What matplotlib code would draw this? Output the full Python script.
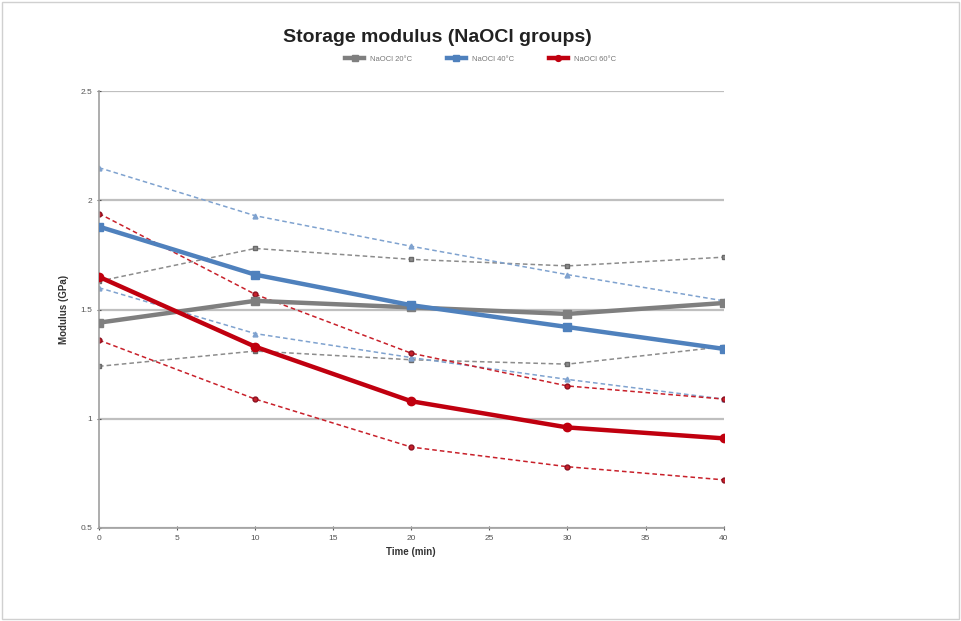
import matplotlib.pyplot as plt
from matplotlib.patches import Rectangle

time = [0, 10, 20, 30, 40]

# mean curves
g20_mean = [1.44, 1.54, 1.51, 1.48, 1.53]
b40_mean = [1.88, 1.66, 1.52, 1.42, 1.32]
r60_mean = [1.65, 1.33, 1.08, 0.96, 0.91]

# upper / lower bounds (dashed)
g20_hi = [1.63, 1.78, 1.73, 1.70, 1.74]
g20_lo = [1.24, 1.31, 1.27, 1.25, 1.33]
b40_hi = [2.15, 1.93, 1.79, 1.66, 1.54]
b40_lo = [1.60, 1.39, 1.28, 1.18, 1.09]
r60_hi = [1.94, 1.57, 1.30, 1.15, 1.09]
r60_lo = [1.36, 1.09, 0.87, 0.78, 0.72]

labels = ["NaOCl 20°C", "NaOCl 40°C", "NaOCl 60°C"]
xticks = [0, 5, 10, 15, 20, 25, 30, 35, 40]
yticks = [0.5, 1, 1.5, 2, 2.5]

gray, blue, red = "#7f7f7f", "#4f81bd", "#c0000f"

plt.rcParams['font.family'] = ['Liberation Sans', 'DejaVu Sans']
fig = plt.figure(figsize=(9.61, 6.21), dpi=100)
fig.patches.append(Rectangle((0.002, 0.003), 0.996, 0.994, transform=fig.transFigure,
                             fill=False, edgecolor="#d0d0d0", lw=1))
ax = fig.add_axes([0.103, 0.150, 0.650, 0.703])

dash = (0, (3, 2))
ax.plot(time, g20_hi, color="#8c8c8c", lw=1.1, ls=dash, marker='s', ms=3.5, mec="#6a6a6a", zorder=2)
ax.plot(time, g20_lo, color="#8c8c8c", lw=1.1, ls=dash, marker='s', ms=3.5, mec="#6a6a6a", zorder=2)
ax.plot(time, b40_hi, color="#7fa2cf", lw=1.1, ls=dash, marker='^', ms=3.5, zorder=2)
ax.plot(time, b40_lo, color="#7fa2cf", lw=1.1, ls=dash, marker='^', ms=3.5, zorder=2)
ax.plot(time, r60_hi, color="#c8202a", lw=1.1, ls=dash, marker='o', ms=3.5, mec="#8a1020", zorder=2)
ax.plot(time, r60_lo, color="#c8202a", lw=1.1, ls=dash, marker='o', ms=3.5, mec="#8a1020", zorder=2)

ax.plot(time, g20_mean, color=gray, lw=3.2, marker='s', ms=6, label=labels[0], zorder=3)
ax.plot(time, b40_mean, color=blue, lw=3.2, marker='s', ms=6, label=labels[1], zorder=3)
ax.plot(time, r60_mean, color=red, lw=3.2, marker='o', ms=6, label=labels[2], zorder=3)

ax.set_xlim(0, 40)
ax.set_ylim(0.5, 2.5)
ax.set_xticks(xticks)
ax.set_yticks(yticks)
ax.set_yticklabels(["0.5", "1", "1.5", "2", "2.5"])
ax.tick_params(labelsize=6, colors="#555555", length=3, direction='inout', width=0.8)
ax.yaxis.grid(True, color="#bfbfbf", lw=1.6)
ax.set_axisbelow(True)
for side in ['top', 'right']:
    ax.spines[side].set_visible(False)
for side in ['left', 'bottom']:
    ax.spines[side].set_color("#a0a0a0")
    ax.spines[side].set_linewidth(1.2)

ax.set_xlabel("Time (min)", fontsize=7, fontweight='bold', color="#333333", labelpad=4)
ax.set_ylabel("Modulus (GPa)", fontsize=7, fontweight='bold', color="#333333", labelpad=8)

fig.text(0.455, 0.94, "Storage modulus (NaOCl groups)", fontsize=14, fontweight='bold',
         ha='center', va='center', color="#222222")
fig.legend(loc='center', bbox_to_anchor=(0.5, 0.905), ncol=3, fontsize=5.5, frameon=False,
           handlelength=2.5, columnspacing=4.5, labelcolor="#777777", markerscale=0.7)

fig.savefig("out.png", dpi=100)
